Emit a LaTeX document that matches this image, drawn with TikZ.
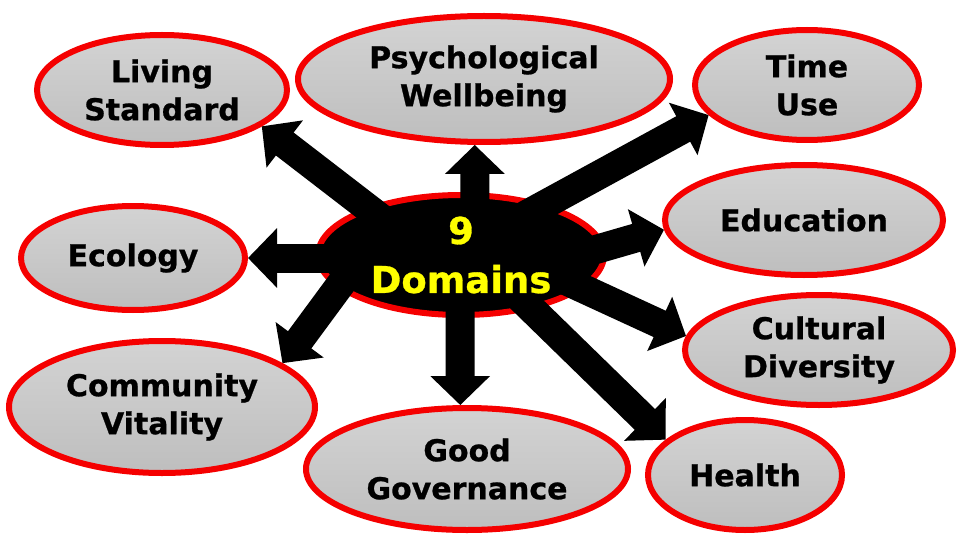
\documentclass[tikz,border=0pt]{standalone}
\usepackage{fontspec}
\setmainfont{DejaVu Sans}[BoldFeatures={FakeBold=0.8}]
\usetikzlibrary{arrows.meta,shapes.geometric}
\definecolor{dred}{RGB}{245,0,0}
\definecolor{gtop}{RGB}{211,211,211}
\definecolor{gbot}{RGB}{190,190,190}
\definecolor{dyel}{RGB}{255,255,0}
\tikzset{
  dom/.style={ellipse, draw=dred, line width=6pt, top color=gtop, bottom color=gbot,
    inner sep=0pt, align=center, text=black,
    font=\fontsize{30}{38}\selectfont\bfseries},
  hub/.style={ellipse, draw=dred, line width=6pt, fill=black, inner sep=0pt},
  hubtext/.style={align=center, text=dyel, inner sep=0pt,
    font=\fontsize{37}{49}\selectfont\bfseries},
  bigarrow/.style={line width=29pt, black, -{Triangle[length=29pt,width=58pt]}},
}
\begin{document}
\begin{tikzpicture}[x=1pt,y=-1pt]
\useasboundingbox[fill=white] (0,0) rectangle (960,540);
% outer domains
\node[dom, minimum width=250pt, minimum height=110pt] (ls) at (162,90) {Living\\Standard};
\node[dom, minimum width=372pt, minimum height=126pt] (pw) at (484,79) {Psychological\\Wellbeing};
\node[dom, minimum width=224pt, minimum height=110pt] (tu) at (807,85) {Time\\Use};
\node[dom, minimum width=278pt, minimum height=110pt] (ed) at (804,220) {Education};
\node[dom, minimum width=268pt, minimum height=110pt] (cd) at (819,350) {Cultural\\Diversity};
\node[dom, minimum width=194pt, minimum height=110pt] (he) at (745,475) {Health};
\node[dom, minimum width=322pt, minimum height=122pt] (gg) at (467,469) {Good\\Governance};
\node[dom, minimum width=306pt, minimum height=132pt] (cv) at (162,407) {Community\\Vitality};
\node[dom, minimum width=224pt, minimum height=104pt] (ec) at (133,258) {Ecology};
% hub
\node[hub, minimum width=286pt, minimum height=120pt] (c) at (461,255) {};
% arrow starts inside the hub
\coordinate (sls) at (412,242);
\coordinate (spw) at (475,255);
\coordinate (stu) at (522,217);
\coordinate (sed) at (570,257);
\coordinate (scd) at (560,278);
\coordinate (she) at (505,283);
\coordinate (sgg) at (460,258);
\coordinate (scv) at (360,258);
\coordinate (sec) at (330,258);
% arrows
\draw[bigarrow] (sls) -- (ls.-20.8);
\draw[bigarrow] (spw) -- (pw.262.3);
\draw[bigarrow] (stu) -- (tu.197.7);
\draw[bigarrow] (sed) -- (ed.184.4);
\draw[bigarrow] (scd) -- (cd.174.3);
\draw[bigarrow] (she) -- (he.156.4);
\draw[bigarrow] (sgg) -- (gg.96.3);
\draw[bigarrow] (scv) -- (cv.20.7);
\draw[bigarrow] (sec) -- (ec.0);
% hub text
\node[hubtext] (ct) at (c) {9\\Domains};
\end{tikzpicture}
\end{document}
